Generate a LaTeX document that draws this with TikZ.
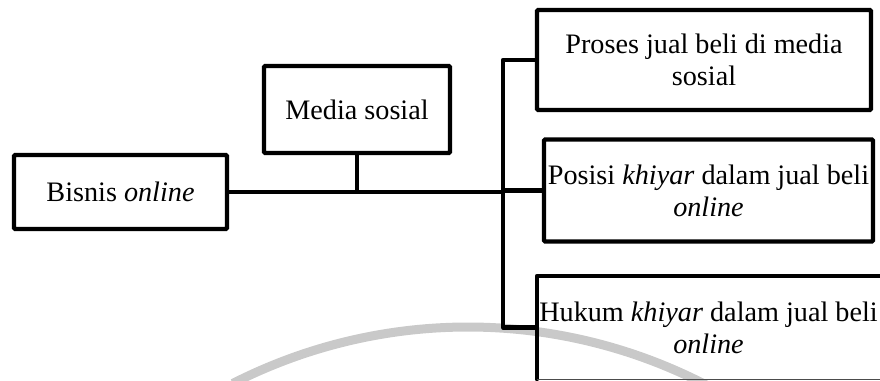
\documentclass[tikz,border=0pt]{standalone}
\usepackage{fontspec}
\setmainfont{Liberation Serif}
\begin{document}
\begin{tikzpicture}[x=1pt,y=-1pt,
  box/.style={draw=black,line width=4.2pt,rectangle,inner sep=0pt,align=center,
    font=\fontsize{28.2}{32}\selectfont,rounded corners=1pt},
  conn/.style={draw=black,line width=4.2pt,line join=round},
  wm/.style={draw=black!21,line width=9pt}
]
\useasboundingbox (0,0) rectangle (880,380);
\clip (0,0) rectangle (880,380);
% watermark arc
\draw[wm] (468,845) ++(-117:518) arc[start angle=-117, end angle=-58, radius=518];
% nodes
\node[box,minimum width=213pt,minimum height=74pt] (bisnis) at (120.5,192) {Bisnis \textit{online}};
\node[box,minimum width=186pt,minimum height=87pt] (media) at (357,109.5) {Media sosial};
\node[box,minimum width=334pt,minimum height=100pt] (proses) at (704,60) {Proses jual beli di media\\sosial};
\node[box,minimum width=329pt,minimum height=102pt] (posisi) at (708.5,190.5) {Posisi \textit{khiyar} dalam jual beli\\\textit{online}};
\node[box,draw=none,minimum width=339pt,minimum height=99pt] (hukum) at (708.5,327.5) {Hukum \textit{khiyar} dalam jual beli\\\textit{online}};
% Hukum box edges (right/bottom clipped thin)
\draw[conn,line cap=round] (hukum.south west) -- (hukum.north west) -- (hukum.north east);
\draw[line width=0.9pt,draw=black!70] (hukum.north east) -- (hukum.south east) -- (hukum.south west);
% bus
\coordinate (bt) at (503,60);
\draw[conn] (proses.west) -- (proses.west -| bt) |- (hukum.west);
\draw[conn] (bisnis.east) -- (bisnis.east -| bt);
\draw[conn] (posisi.west) -- (posisi.west -| bt);
\draw[conn] (media.south) -- (media.south |- bisnis.east);
\end{tikzpicture}
\end{document}
